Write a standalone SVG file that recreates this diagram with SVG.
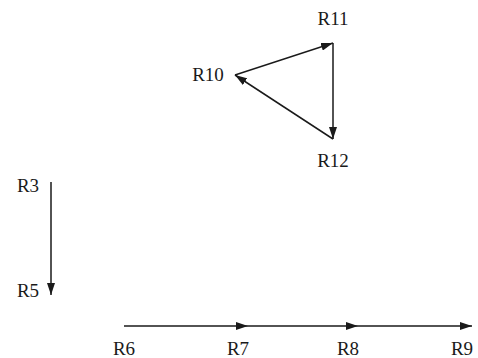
<svg xmlns="http://www.w3.org/2000/svg" width="478" height="358" viewBox="0 0 478 358">
<style>
text{font-family:"Liberation Serif","Times New Roman",serif;font-size:19px;fill:#1a1a1a}
.e{stroke:#1a1a1a;stroke-width:1.5;fill:none;marker-end:url(#ah)}
</style>
<defs>
<marker id="ah" markerWidth="12" markerHeight="8" refX="12" refY="4" orient="auto" markerUnits="userSpaceOnUse">
<path d="M0,0 L12,4 L0,8 Z" fill="#1a1a1a"/>
</marker>
</defs>
<rect width="478" height="358" fill="#fff"/>
<g id="connectors">
<line class="e" x1="235" y1="75" x2="333" y2="43"/>
<line class="e" x1="333" y1="43" x2="333" y2="139"/>
<line class="e" x1="333" y1="139" x2="235" y2="75"/>
<line class="e" x1="51" y1="182" x2="51" y2="295"/>
<line class="e" x1="124" y1="326" x2="248" y2="326"/>
<line class="e" x1="248" y1="326" x2="358" y2="326"/>
<line class="e" x1="358" y1="326" x2="472" y2="326"/>
</g>
<g id="R10"><text x="208" y="81" text-anchor="middle">R10</text></g>
<g id="R11"><text x="333" y="25" text-anchor="middle">R11</text></g>
<g id="R12"><text x="333" y="167" text-anchor="middle">R12</text></g>
<g id="R3"><text x="28" y="192" text-anchor="middle">R3</text></g>
<g id="R5"><text x="28" y="297" text-anchor="middle">R5</text></g>
<g id="R6"><text x="124" y="355" text-anchor="middle">R6</text></g>
<g id="R7"><text x="238" y="355" text-anchor="middle">R7</text></g>
<g id="R8"><text x="348" y="355" text-anchor="middle">R8</text></g>
<g id="R9"><text x="462" y="355" text-anchor="middle">R9</text></g>
</svg>
